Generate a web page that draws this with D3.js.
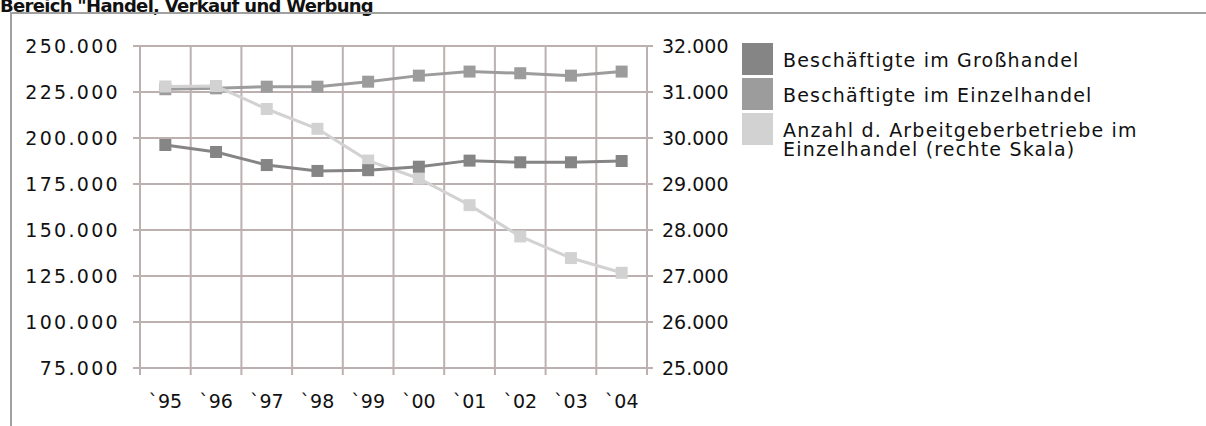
<!DOCTYPE html>
<html>
<head>
    <style>
        body { margin: 0; background: #fff; }
        svg text { font-family: "DejaVu Sans", Verdana, sans-serif; fill: #111; }
        .title { font-weight: bold; font-size: 18px; letter-spacing: -0.7px; }
        .grid line { stroke: #bcb0b0; stroke-width: 2; }
        .lab { font-size: 19px; }
    </style>
    <script src="https://d3js.org/d3.v7.min.js"></script>
</head>
<body>
    <svg width="1206" height="426"></svg>
    <script>

        var years = ["`95", "`96", "`97", "`98", "`99", "`00", "`01", "`02", "`03", "`04"];
        var grosshandel = [196200, 192400, 185300, 182100, 182500, 184400, 187700, 186800, 186800, 187500];
        var einzelhandel = [226500, 227000, 227900, 227900, 230600, 233900, 236100, 235200, 233900, 236100];
        var betriebe = [31120, 31130, 30630, 30200, 29510, 29120, 28540, 27860, 27390, 27070];
        var leftTicks = [75000, 100000, 125000, 150000, 175000, 200000, 225000, 250000];
        var rightTicks = [25000, 26000, 27000, 28000, 29000, 30000, 31000, 32000];
        var legendLabels = [
            ["Beschäftigte im Großhandel"],
            ["Beschäftigte im Einzelhandel"],
            ["Anzahl d. Arbeitgeberbetriebe im", "Einzelhandel (rechte Skala)"]
        ];
        var colors = ["#858585", "#9c9c9c", "#d2d2d2"];

        var svg = d3.select("svg");

        // title + frame
        svg.append("text")
           .attr("class", "title")
           .attr("x", 0)
           .attr("y", 12)
           .text("Bereich \"Handel, Verkauf und Werbung");

        svg.append("path")
           .attr("d", "M11,426V13H1206")
           .attr("fill", "none")
           .attr("stroke", "#a0a0a0")
           .attr("stroke-width", 2);

        var x = d3.scaleBand().domain(years).range([140, 647]).padding(0);
        var yL = d3.scaleLinear().domain([75000, 250000]).range([368, 46]);
        var yR = d3.scaleLinear().domain([25000, 32000]).range([368, 46]);
        var fmt = function(v) { return d3.format(",")(v).replace(/,/g, "."); };

        var grid = svg.append("g").attr("class", "grid");

        grid.selectAll(".h")
            .data(leftTicks)
            .enter().append("line")
            .attr("x1", 133).attr("x2", 653)
            .attr("y1", function(d) { return yL(d); })
            .attr("y2", function(d) { return yL(d); });

        grid.selectAll(".v")
            .data(years)
            .enter().append("line")
            .attr("x1", function(d) { return x(d); })
            .attr("x2", function(d) { return x(d); })
            .attr("y1", 46).attr("y2", 375);

        grid.append("line")
            .attr("x1", x.range()[1]).attr("x2", x.range()[1])
            .attr("y1", 46).attr("y2", 375);

        // left axis labels
        svg.append("g").selectAll("text")
           .data(leftTicks)
           .enter().append("text")
           .attr("class", "lab")
           .attr("x", 120)
           .attr("y", function(d) { return yL(d) + 7; })
           .attr("text-anchor", "end")
           .style("letter-spacing", "2.3px")
           .text(fmt);

        // right axis labels
        svg.append("g").selectAll("text")
           .data(rightTicks)
           .enter().append("text")
           .attr("class", "lab")
           .attr("x", 662)
           .attr("y", function(d) { return yR(d) + 7; })
           .text(fmt);

        // x labels
        svg.append("g").selectAll("text")
           .data(years)
           .enter().append("text")
           .attr("class", "lab")
           .attr("x", function(d) { return x(d) + x.bandwidth() / 2; })
           .attr("y", 408)
           .attr("text-anchor", "middle")
           .text(function(d) { return d; });

        var cx = function(d, i) { return x(years[i]) + x.bandwidth() / 2; };

        function drawSeries(values, scale, color) {
            var line = d3.line()
                         .x(function(d, i) { return cx(d, i); })
                         .y(function(d) { return scale(d); });
            var g = svg.append("g");
            g.append("path")
             .datum(values)
             .attr("d", line)
             .attr("fill", "none")
             .attr("stroke", color)
             .attr("stroke-width", 3);
            g.selectAll("rect")
             .data(values)
             .enter().append("rect")
             .attr("x", function(d, i) { return cx(d, i) - 6; })
             .attr("y", function(d) { return scale(d) - 6; })
             .attr("width", 12)
             .attr("height", 12)
             .attr("fill", color);
        }

        drawSeries(einzelhandel, yL, colors[1]);
        drawSeries(betriebe, yR, colors[2]);
        drawSeries(grosshandel, yL, colors[0]);

        // legend
        var leg = svg.append("g").selectAll("g")
                     .data(legendLabels)
                     .enter().append("g")
                     .attr("transform", function(d, i) { return "translate(742," + (43 + i * 35) + ")"; });

        leg.append("rect")
           .attr("width", 31)
           .attr("height", 32)
           .attr("fill", function(d, i) { return colors[i]; });

        leg.append("text")
           .attr("class", "lab")
           .style("letter-spacing", "1.2px")
           .attr("x", 41)
           .attr("y", 24)
           .selectAll("tspan")
           .data(function(d) { return d; })
           .enter().append("tspan")
           .attr("x", 41)
           .attr("dy", function(d, i) { return i === 0 ? 0 : 19; })
           .text(function(d) { return d; });
    </script>
</body>
</html>
